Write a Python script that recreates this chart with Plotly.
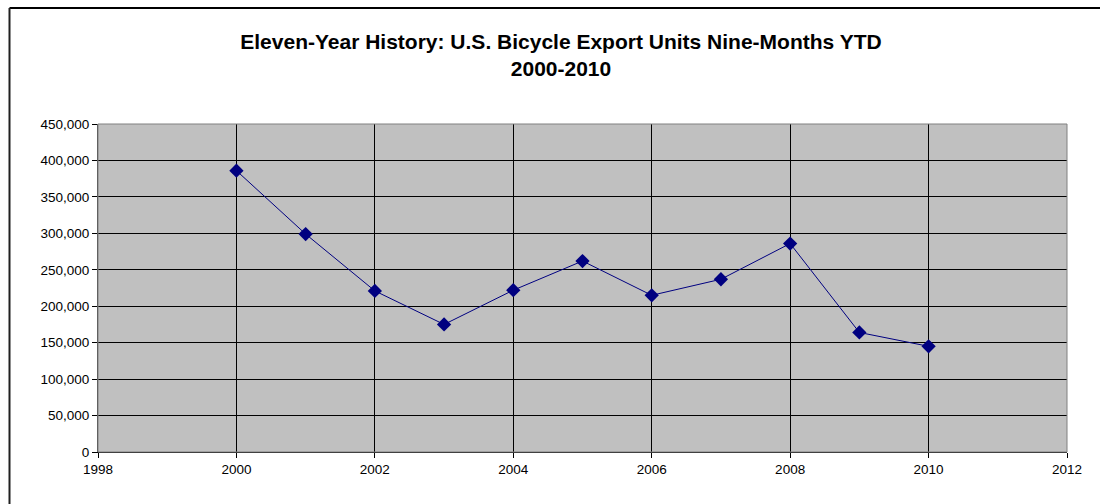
import plotly.graph_objects as go

years = [2000, 2001, 2002, 2003, 2004, 2005, 2006, 2007, 2008, 2009, 2010]
units = [386000, 299000, 221000, 175000, 222000, 262000, 215000, 237000, 286000, 164000, 145000]

x_ticks = [1998, 2000, 2002, 2004, 2006, 2008, 2010, 2012]
y_ticks = list(range(0, 450001, 50000))
y_labels = [f"{v:,}" for v in y_ticks]

W, H = 1100, 504
L, R, T, B = 98, 33, 124, 52
pw, ph = W - L - R, H - T - B

fig = go.Figure()
fig.add_trace(go.Scatter(
    x=years, y=units, mode="lines+markers",
    line=dict(color="#000080", width=1),
    marker=dict(symbol="diamond", size=11, color="#000080"),
    showlegend=False,
))

def px_x(p):
    return (p - L) / pw

def px_y(p):
    return (H - B - p) / ph

fig.update_layout(
    width=W, height=H,
    margin=dict(l=L, r=R, t=T, b=B),
    paper_bgcolor="white",
    plot_bgcolor="#c0c0c0",
    font=dict(family="Liberation Sans, Arial, sans-serif", size=13.5, color="black"),
    title=dict(
        text="<b>Eleven-Year History: U.S. Bicycle Export Units Nine-Months YTD<br>2000-2010</b>",
        x=0.51, xanchor="center", y=1 - 49 / H, yanchor="middle",
        font=dict(size=21, color="black"),
    ),
    xaxis=dict(
        range=[1998, 2012], tickvals=x_ticks, ticktext=[str(v) for v in x_ticks],
        showgrid=True, gridcolor="black", gridwidth=1,
        showline=True, linecolor="black", linewidth=1,
        ticks="outside", ticklen=5, tickcolor="black",
        zeroline=False,
    ),
    yaxis=dict(
        range=[0, 450000], tickvals=y_ticks, ticktext=y_labels,
        showgrid=True, gridcolor="black", gridwidth=1,
        showline=True, linecolor="#404040", linewidth=1,
        ticks="outside", ticklen=5, tickcolor="black",
        zeroline=False,
    ),
    shapes=[
        dict(type="rect", xref="paper", yref="paper", x0=0, x1=1, y0=0, y1=1,
             line=dict(color="#808080", width=1), fillcolor="rgba(0,0,0,0)", layer="above"),
        dict(type="line", xref="paper", yref="paper",
             x0=px_x(9.5), x1=px_x(1100), y0=px_y(8), y1=px_y(8),
             line=dict(color="black", width=2)),
        dict(type="line", xref="paper", yref="paper",
             x0=px_x(9.5), x1=px_x(9.5), y0=px_y(8), y1=px_y(504),
             line=dict(color="#202020", width=2)),
    ],
)

fig.write_html(
    "out.html",
    config={"displayModeBar": False},
    post_script="document.body.style.margin='0';document.body.style.overflow='hidden';",
)
